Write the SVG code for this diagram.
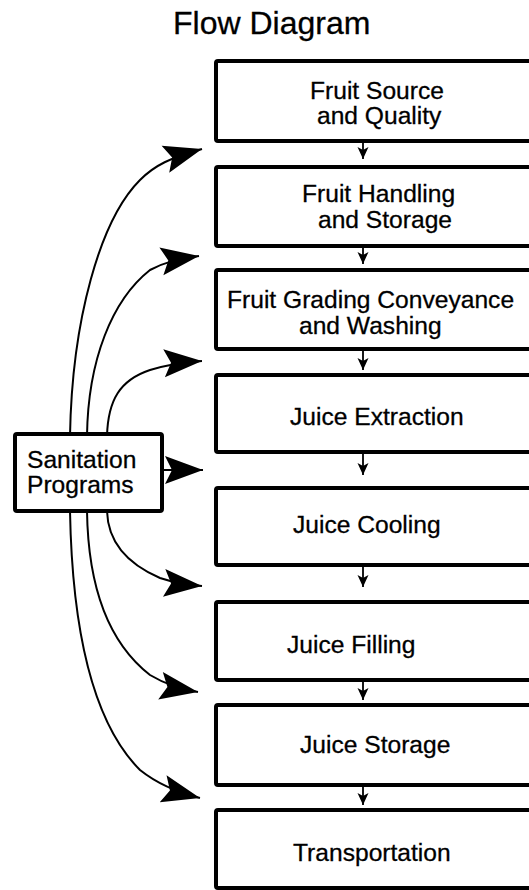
<svg xmlns="http://www.w3.org/2000/svg" width="529" height="890" viewBox="0 0 529 890">
<style>
.box{fill:#fff;stroke:#000;stroke-width:4}
.t{font-family:"Liberation Sans",Arial,sans-serif;font-size:24.6px;fill:#000;stroke:#000;stroke-width:0.3}
.title{font-family:"Liberation Sans",Arial,sans-serif;font-size:32px;fill:#000;stroke:#000;stroke-width:0.3}
.c{fill:none;stroke:#000;stroke-width:2}
.s{fill:none;stroke:#000;stroke-width:1.8}
</style>
<defs>
<marker id="big" viewBox="-40 -16 42 32" markerWidth="42" markerHeight="32" refX="0" refY="0" orient="auto" markerUnits="userSpaceOnUse">
<path d="M0,0 L-38,-14 L-31,0 L-38,14 Z" fill="#000"/>
</marker>
<marker id="small" viewBox="-13 -7 14 14" markerWidth="14" markerHeight="14" refX="0" refY="0" orient="auto" markerUnits="userSpaceOnUse">
<path d="M0,0 L-12,-5.5 L-9,0 L-12,5.5 Z" fill="#000"/>
</marker>
</defs>
<text class="title" x="173" y="34">Flow Diagram</text>
<g id="n1"><rect class="box" x="216" y="61" width="330" height="80" rx="2"/><text class="t" x="310" y="99">Fruit Source</text><text class="t" x="317" y="124">and Quality</text></g>
<g id="n2"><rect class="box" x="216" y="167" width="330" height="79" rx="2"/><text class="t" x="302" y="202">Fruit Handling</text><text class="t" x="318" y="228">and Storage</text></g>
<g id="n3"><rect class="box" x="216" y="270" width="330" height="79" rx="2"/><text class="t" x="227" y="308">Fruit Grading Conveyance</text><text class="t" x="299" y="334">and Washing</text></g>
<g id="n4"><rect class="box" x="216" y="375" width="330" height="77" rx="2"/><text class="t" x="290" y="425">Juice Extraction</text></g>
<g id="n5"><rect class="box" x="216" y="488" width="330" height="77" rx="2"/><text class="t" x="293" y="533">Juice Cooling</text></g>
<g id="n6"><rect class="box" x="216" y="602" width="330" height="78" rx="2"/><text class="t" x="287" y="653">Juice Filling</text></g>
<g id="n7"><rect class="box" x="216" y="705" width="330" height="80" rx="2"/><text class="t" x="300" y="753">Juice Storage</text></g>
<g id="n8"><rect class="box" x="216" y="810" width="330" height="78" rx="2"/><text class="t" x="293" y="861">Transportation</text></g>
<g id="connectors">
<path class="s" d="M363,143 L363,159" marker-end="url(#small)"/>
<path class="s" d="M363,248 L363,264" marker-end="url(#small)"/>
<path class="s" d="M363,351 L363,370" marker-end="url(#small)"/>
<path class="s" d="M363,454 L363,475" marker-end="url(#small)"/>
<path class="s" d="M363,567 L363,587" marker-end="url(#small)"/>
<path class="s" d="M363,682 L363,700" marker-end="url(#small)"/>
<path class="s" d="M363,787 L363,805" marker-end="url(#small)"/>
<path class="c" d="M70,436 C72,320 100,220 140,180 C155,165 170,158 202,149" marker-end="url(#big)"/>
<path class="c" d="M87,436 C88,360 112,300 150,270 C165,262 178,259 199,256" marker-end="url(#big)"/>
<path class="c" d="M107,436 C108,400 120,380 150,370 C170,364 185,362 202,361" marker-end="url(#big)"/>
<path class="c" d="M158,470 L203,470" marker-end="url(#big)"/>
<path class="c" d="M107,511 C108,545 130,565 160,578 C175,583 190,585 202,586" marker-end="url(#big)"/>
<path class="c" d="M87,511 C88,580 105,640 150,675 C165,684 180,689 198,692" marker-end="url(#big)"/>
<path class="c" d="M70,511 C72,620 90,720 140,770 C160,786 180,793 200,798" marker-end="url(#big)"/>
</g>
<g id="sanitation"><rect class="box" x="15" y="434" width="147" height="77" rx="2"/><text class="t" x="27" y="468">Sanitation</text><text class="t" x="27" y="493">Programs</text></g>
</svg>
